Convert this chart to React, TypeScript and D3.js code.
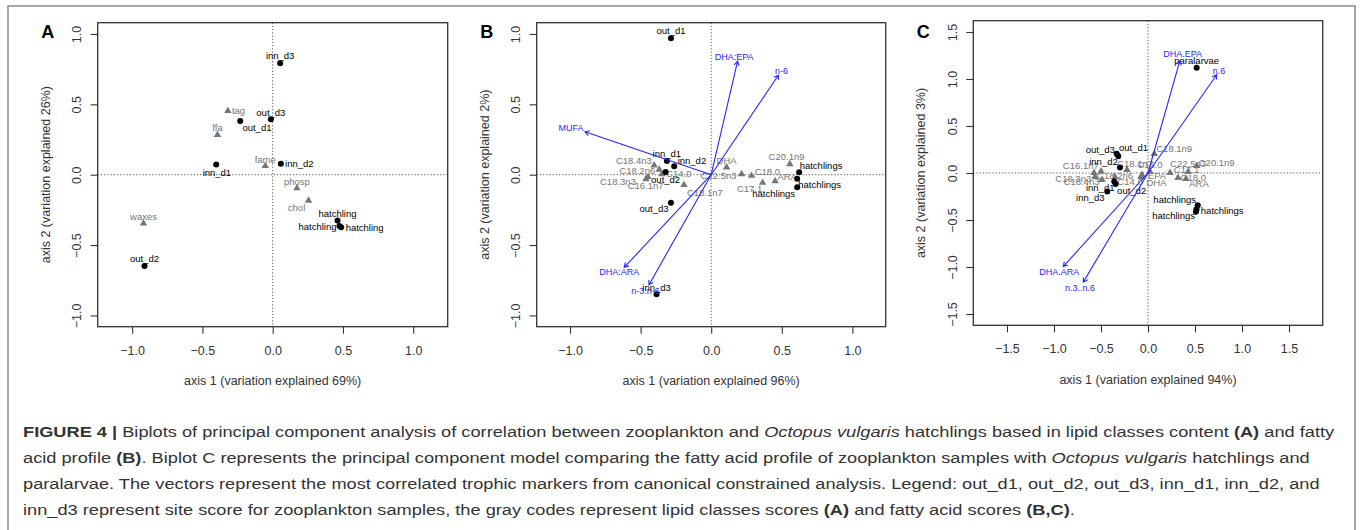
import { useEffect, useRef, useState } from 'react'
import * as d3 from 'd3'

interface Pt { label: string; x: number; y: number }

// ---------- panel A: lipid classes ----------
const aSites: Pt[] = [
  { label: 'inn_d3', x: 0.053, y: 0.792 },
  { label: 'out_d3', x: -0.013, y: 0.394 },
  { label: 'out_d1', x: -0.231, y: 0.382 },
  { label: 'inn_d1', x: -0.402, y: 0.072 },
  { label: 'inn_d2', x: 0.058, y: 0.077 },
  { label: 'out_d2', x: -0.912, y: -0.648 },
  { label: 'hatchling', x: 0.461, y: -0.326 },
  { label: 'hatchling', x: 0.475, y: -0.365 },
  { label: 'hatchling', x: 0.487, y: -0.373 },
]
const aScores: Pt[] = [
  { label: 'tag', x: -0.319, y: 0.453 },
  { label: 'ffa', x: -0.393, y: 0.283 },
  { label: 'fame', x: -0.053, y: 0.062 },
  { label: 'phosp', x: 0.172, y: -0.096 },
  { label: 'chol', x: 0.255, y: -0.184 },
  { label: 'waxes', x: -0.919, y: -0.345 },
]
const aVectors: Pt[] = []

// ---------- panel B: fatty acids ----------
const bSites: Pt[] = [
  { label: 'out_d1', x: -0.285, y: 0.969 },
  { label: 'inn_d1', x: -0.314, y: 0.097 },
  { label: 'inn_d2', x: -0.262, y: 0.06 },
  { label: 'out_d2', x: -0.323, y: 0.019 },
  { label: 'out_d3', x: -0.285, y: -0.199 },
  { label: 'inn_d3', x: -0.387, y: -0.849 },
  { label: 'hatchlings', x: 0.623, y: 0.017 },
  { label: 'hatchlings', x: 0.609, y: -0.028 },
  { label: 'hatchlings', x: 0.609, y: -0.09 },
]
const bScores: Pt[] = [
  { label: 'C18.4n3', x: -0.404, y: 0.067 },
  { label: 'C18.2n6', x: -0.368, y: 0.036 },
  { label: 'C14.0', x: -0.349, y: 0.005 },
  { label: 'C18.3n3', x: -0.462, y: -0.031 },
  { label: 'C16.1n7', x: -0.448, y: -0.016 },
  { label: 'C18.1n7', x: -0.193, y: -0.073 },
  { label: 'DHA', x: 0.109, y: 0.053 },
  { label: 'C22.5n3', x: 0.215, y: 0.005 },
  { label: 'C18.0', x: 0.286, y: -0.007 },
  { label: 'C20.1n9', x: 0.557, y: 0.076 },
  { label: 'ARA', x: 0.453, y: -0.045 },
  { label: 'C17.1', x: 0.364, y: -0.057 },
]
const bVectors: Pt[] = [
  { label: 'DHA:EPA', x: 0.187, y: 0.807 },
  { label: 'n-6', x: 0.477, y: 0.708 },
  { label: 'MUFA', x: -0.894, y: 0.305 },
  { label: 'DHA:ARA', x: -0.616, y: -0.658 },
  { label: 'n-3:n-6', x: -0.441, y: -0.783 },
]

// ---------- panel C: fatty acids incl. paralarvae ----------
const cSites: Pt[] = [
  { label: 'out_d3', x: -0.333, y: 0.204 },
  { label: 'out_d1', x: -0.316, y: 0.178 },
  { label: 'inn_d2', x: -0.298, y: 0.059 },
  { label: 'inn_d1', x: -0.359, y: -0.09 },
  { label: 'out_d2', x: -0.344, y: -0.118 },
  { label: 'inn_d3', x: -0.433, y: -0.197 },
  { label: 'paralarvae', x: 0.518, y: 1.119 },
  { label: 'hatchlings', x: 0.529, y: -0.344 },
  { label: 'hatchlings', x: 0.516, y: -0.386 },
  { label: 'hatchlings', x: 0.51, y: -0.413 },
]
const cScores: Pt[] = [
  { label: 'C18.1n9', x: 0.067, y: 0.204 },
  { label: 'C16.1n7', x: -0.5, y: 0.018 },
  { label: 'C18.1n7', x: -0.223, y: 0.034 },
  { label: 'C16.0', x: 0.021, y: 0.013 },
  { label: 'C22.5n3', x: 0.426, y: 0.013 },
  { label: 'C20.1n9', x: 0.518, y: 0.077 },
  { label: 'C18.3n3', x: -0.564, y: -0.041 },
  { label: 'C18.4n3', x: -0.489, y: -0.072 },
  { label: 'C18.2n6', x: -0.574, y: 0.002 },
  { label: 'EPA', x: -0.064, y: -0.019 },
  { label: 'C14.0', x: -0.351, y: -0.041 },
  { label: 'C17.1', x: 0.234, y: 0.002 },
  { label: 'C18.0', x: 0.319, y: -0.051 },
  { label: 'ARA', x: 0.404, y: -0.062 },
  { label: 'DHA', x: -0.074, y: -0.04 },
]
const cVectors: Pt[] = [
  { label: 'DHA.EPA', x: 0.34, y: 1.197 },
  { label: 'n.6', x: 0.731, y: 1.045 },
  { label: 'DHA.ARA', x: -0.901, y: -0.995 },
  { label: 'n.3..n.6', x: -0.688, y: -1.161 },
]

const abTicks = [-1, -0.5, 0, 0.5, 1]
const cTicks = [-1.5, -1, -0.5, 0, 0.5, 1, 1.5]

// label nudges in px (layout only)
const aSiteNudge = [[0, -7.5], [0, -6.6], [16.7, 6.7], [0.7, 8], [18.5, 0], [0, -7], [0, -7.4], [-22, 0.5], [23.5, 0.5]]
const aScoreNudge = [[10.7, 0], [0, -7.3], [0, -6.5], [0, -6.6], [-12, 7.3], [0, -6.6]]
const bSiteNudge = [[0, -7.3], [0, -7.7], [17.7, -5.6], [0, 7.3], [-17, 5.6], [0, -7], [21.9, -6.6], [22.5, 5.6], [-23.5, 6]]
const bScoreNudge = [[-20.3, -4.3], [-22, 1], [16.8, 0], [-28, 2.7], [-2.3, 8.7], [21, 7.7], [0, -6.3], [-23, 1.7], [15.8, -4], [-3.3, -7.3], [12, -4.3], [-13, 6.3]]
const bVectorNudge = [[-3.4, -4.3], [3, -4.3], [-14, -4], [-5, 5], [-3.3, 6]]
const cSiteNudge = [[-16.4, -4], [15.3, -8.8], [-16.5, -6], [-14, 6.3], [16, 6.4], [-17, 6.3], [0, -7.3], [-23, -5.5], [25.7, 1.5], [-22.3, 3.7]]
const cScoreNudge = [[19.9, -5], [-20.2, -5.8], [8, -6.3], [0, -7], [0, -7.7], [20, -3.3], [-21.7, 2], [-20.5, 2.3], [21, 3], [15, 0.5], [15, 5.3], [16.5, -3], [15.3, 0.3], [13, 5.3], [15.5, 6.3]]
const cVectorNudge = [[2.7, -6.7], [2.3, -4.3], [-4, 5], [-3.3, 6]]

interface PanelCfg {
  tag: string
  box: { left: number; right: number; top: number; bottom: number }
  xDom: [number, number]
  yDom: [number, number]
  ticks: number[]
  xTitle: string
  yTitle: string
  sites: Pt[]
  scores: Pt[]
  vectors: Pt[]
  siteNudge: number[][]
  scoreNudge: number[][]
  vectorNudge: number[][]
}

const panels: PanelCfg[] = [
  {
    tag: 'A', box: { left: 97.7, right: 447.7, top: 22.7, bottom: 326.7 },
    xDom: [-1.245, 1.245], yDom: [-1.08, 1.08], ticks: abTicks,
    xTitle: 'axis 1 (variation explained 69%)', yTitle: 'axis 2 (variation explained 26%)',
    sites: aSites, scores: aScores, vectors: aVectors,
    siteNudge: aSiteNudge, scoreNudge: aScoreNudge, vectorNudge: [],
  },
  {
    tag: 'B', box: { left: 536.7, right: 885.7, top: 22.7, bottom: 326.7 },
    xDom: [-1.236, 1.236], yDom: [-1.08, 1.08], ticks: abTicks,
    xTitle: 'axis 1 (variation explained 96%)', yTitle: 'axis 2 (variation explained 2%)',
    sites: bSites, scores: bScores, vectors: bVectors,
    siteNudge: bSiteNudge, scoreNudge: bScoreNudge, vectorNudge: bVectorNudge,
  },
  {
    tag: 'C', box: { left: 973.3, right: 1322.7, top: 20.7, bottom: 325.3 },
    xDom: [-1.858, 1.858], yDom: [-1.62, 1.62], ticks: cTicks,
    xTitle: 'axis 1 (variation explained 94%)', yTitle: 'axis 2 (variation explained 3%)',
    sites: cSites, scores: cScores, vectors: cVectors,
    siteNudge: cSiteNudge, scoreNudge: cScoreNudge, vectorNudge: cVectorNudge,
  },
]

const FONT = '"Liberation Sans", Arial, Helvetica, sans-serif'
const AXIS = '#333'
const GRAY = '#767676'
const BLUE = '#2626ff'

function drawPanel(root: d3.Selection<SVGGElement, unknown, null, undefined>, p: PanelCfg) {
  const { box } = p
  const x = d3.scaleLinear().domain(p.xDom).range([box.left, box.right])
  const y = d3.scaleLinear().domain(p.yDom).range([box.bottom, box.top])
  const fmt = d3.format('.1f')
  const g = root.append('g').attr('font-family', FONT)

  // zero lines
  g.append('line')
    .attr('x1', x(0)).attr('x2', x(0)).attr('y1', box.top).attr('y2', box.bottom)
    .attr('stroke', '#555').attr('stroke-width', 1).attr('stroke-dasharray', '1.2,2')
  g.append('line')
    .attr('x1', box.left).attr('x2', box.right).attr('y1', y(0)).attr('y2', y(0))
    .attr('stroke', '#555').attr('stroke-width', 1).attr('stroke-dasharray', '1.2,2')

  // axes
  const xa = g.append('g')
    .attr('transform', `translate(0,${box.bottom})`)
    .call(d3.axisBottom(x).tickValues(p.ticks).tickFormat((d) => fmt(d as number)).tickSize(7).tickPadding(12))
  xa.select('.domain').remove()
  xa.selectAll('line').attr('stroke', AXIS).attr('stroke-width', 1.1)
  xa.selectAll('text').attr('fill', AXIS).style('font-size', '12.5px').style('font-family', FONT)

  const ya = g.append('g')
    .attr('transform', `translate(${box.left},0)`)
    .call(d3.axisLeft(y).tickValues(p.ticks).tickFormat((d) => fmt(d as number)).tickSize(7))
  ya.select('.domain').remove()
  ya.selectAll('line').attr('stroke', AXIS).attr('stroke-width', 1.1)
  ya.selectAll('text')
    .attr('fill', AXIS).style('font-size', '12.5px').style('font-family', FONT)
    .attr('transform', 'rotate(-90)')
    .attr('text-anchor', 'middle')
    .attr('x', 0).attr('dy', null).attr('y', -16.3)

  // box
  g.append('rect')
    .attr('x', box.left).attr('y', box.top)
    .attr('width', box.right - box.left).attr('height', box.bottom - box.top)
    .attr('fill', 'none').attr('stroke', AXIS).attr('stroke-width', 1.3)

  // titles
  const cx = (box.left + box.right) / 2
  const cy = (box.top + box.bottom) / 2
  g.append('text').attr('x', cx).attr('y', box.bottom + 54).attr('dy', '0.35em')
    .attr('text-anchor', 'middle').attr('fill', AXIS).style('font-size', '12.5px').text(p.xTitle)
  g.append('text').attr('transform', `translate(${box.left - 52.5},${cy}) rotate(-90)`).attr('dy', '0.35em')
    .attr('text-anchor', 'middle').attr('fill', AXIS).style('font-size', '12.5px').text(p.yTitle)
  g.append('text').attr('x', box.left - 50).attr('y', 38)
    .attr('text-anchor', 'middle').attr('fill', '#000').style('font-size', '18px').style('font-weight', 'bold').text(p.tag)

  // gray scores
  const tri = d3.symbol().type(d3.symbolTriangle).size(24)
  g.append('g').selectAll('path').data(p.scores).join('path')
    .attr('d', tri)
    .attr('transform', (d) => `translate(${x(d.x)},${y(d.y)})`)
    .attr('fill', GRAY)
  g.append('g').selectAll('text').data(p.scores).join('text')
    .attr('x', (d, i) => x(d.x) + (p.scoreNudge[i]?.[0] ?? 0))
    .attr('y', (d, i) => y(d.y) + (p.scoreNudge[i]?.[1] ?? 0))
    .attr('dy', '0.35em').attr('text-anchor', 'middle')
    .attr('fill', GRAY).style('font-size', '9.5px')
    .text((d) => d.label)

  // black site scores
  g.append('g').selectAll('circle').data(p.sites).join('circle')
    .attr('cx', (d) => x(d.x)).attr('cy', (d) => y(d.y)).attr('r', 3).attr('fill', '#000')
  g.append('g').selectAll('text').data(p.sites).join('text')
    .attr('x', (d, i) => x(d.x) + (p.siteNudge[i]?.[0] ?? 0))
    .attr('y', (d, i) => y(d.y) + (p.siteNudge[i]?.[1] ?? 0))
    .attr('dy', '0.35em').attr('text-anchor', 'middle')
    .attr('fill', '#000').style('font-size', '9.5px')
    .text((d) => d.label)

  // vectors
  const vg = g.append('g')
  p.vectors.forEach((v, i) => {
    const x0 = x(0), y0 = y(0), x1 = x(v.x), y1 = y(v.y)
    const ang = Math.atan2(y1 - y0, x1 - x0)
    const head = 5
    const path = d3.path()
    path.moveTo(x0, y0)
    path.lineTo(x1, y1)
    path.moveTo(x1 - head * Math.cos(ang - Math.PI / 6), y1 - head * Math.sin(ang - Math.PI / 6))
    path.lineTo(x1, y1)
    path.lineTo(x1 - head * Math.cos(ang + Math.PI / 6), y1 - head * Math.sin(ang + Math.PI / 6))
    vg.append('path').attr('d', path.toString()).attr('fill', 'none').attr('stroke', BLUE).attr('stroke-width', 1.1)
    vg.append('text')
      .attr('x', x1 + (p.vectorNudge[i]?.[0] ?? 0))
      .attr('y', y1 + (p.vectorNudge[i]?.[1] ?? 0))
      .attr('dy', '0.35em').attr('text-anchor', 'middle')
      .attr('fill', BLUE).style('font-size', '9px')
      .text(v.label)
  })
}

// caption: first line spans this many px, other lines keep the same squeeze
const CAP_LEFT = 23
const CAP_LINE1 = 1312

export default function App() {
  const ref = useRef<SVGGElement | null>(null)
  const firstLine = useRef<SVGTextElement | null>(null)
  const [squeeze, setSqueeze] = useState(1)

  useEffect(() => {
    if (!ref.current) {return}
    const root = d3.select(ref.current)
    root.selectAll('*').remove()
    panels.forEach((p) => drawPanel(root, p))
    if (firstLine.current) {
      const w = firstLine.current.getComputedTextLength()
      if (w > 0) {setSqueeze(CAP_LINE1 / w)}
    }
  }, [])

  const cap = { fontFamily: FONT, fontSize: 15.5, fill: '#333' }
  return (
    <svg width={1360} height={530} style={{ position: 'absolute', left: 0, top: 0, background: '#fff' }}>
      <rect x={8} y={6} width={1347} height={560} fill="none" stroke="#8a8a8a" strokeWidth={1.5} />
      <g ref={ref} />
      <g style={cap} transform={`translate(${CAP_LEFT},0) scale(${squeeze},1)`}>
        <text ref={firstLine} x={0} y={437}>
          <tspan fontWeight="bold">FIGURE 4 |</tspan> Biplots of principal component analysis of correlation between zooplankton and{' '}
          <tspan fontStyle="italic">Octopus vulgaris</tspan> hatchlings based in lipid classes content <tspan fontWeight="bold">(A)</tspan> and fatty
        </text>
        <text x={0} y={463}>
          acid profile <tspan fontWeight="bold">(B)</tspan>. Biplot C represents the principal component model comparing the fatty acid profile of zooplankton samples with{' '}
          <tspan fontStyle="italic">Octopus vulgaris</tspan> hatchlings and
        </text>
        <text x={0} y={489}>
          paralarvae. The vectors represent the most correlated trophic markers from canonical constrained analysis. Legend: out_d1, out_d2, out_d3, inn_d1, inn_d2, and
        </text>
        <text x={0} y={515}>
          inn_d3 represent site score for zooplankton samples, the gray codes represent lipid classes scores <tspan fontWeight="bold">(A)</tspan> and fatty acid scores{' '}
          <tspan fontWeight="bold">(B,C)</tspan>.
        </text>
      </g>
    </svg>
  )
}
